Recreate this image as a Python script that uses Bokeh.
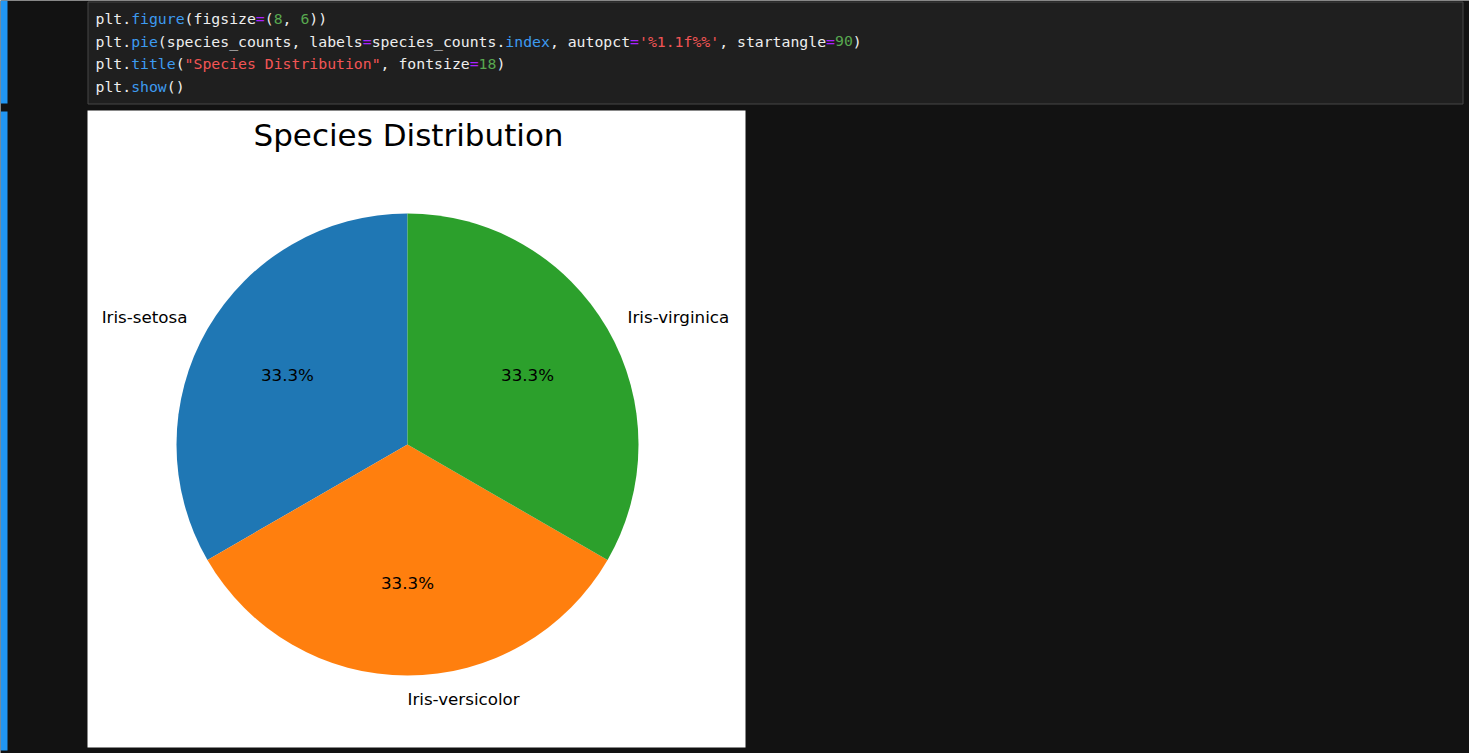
import math
from bokeh.plotting import figure
from bokeh.models import Range1d, ColumnDataSource
from bokeh.core.properties import value
from bokeh.embed import file_html
from bokeh.resources import INLINE

# ---------------- data ----------------
species = ["Iris-setosa", "Iris-versicolor", "Iris-virginica"]
counts = [50, 50, 50]
slice_colors = ["#1f77b4", "#ff7f0e", "#2ca02c"]
chart_title = "Species Distribution"
start_angle_deg = 90

# notebook code cell text (token, style)
code_lines = [
    [("plt.", "t"), ("figure", "b"), ("(figsize", "t"), ("=", "p"), ("(", "t"), ("8", "g"),
     (", ", "t"), ("6", "g"), ("))", "t")],
    [("plt.", "t"), ("pie", "b"), ("(species_counts, labels", "t"), ("=", "p"),
     ("species_counts.", "t"), ("index", "b"), (", autopct", "t"), ("=", "p"),
     ("'%1.1f%%'", "r"), (", startangle", "t"), ("=", "p"), ("90", "g"), (")", "t")],
    [("plt.", "t"), ("title", "b"), ("(", "t"), ('"Species Distribution"', "r"),
     (", fontsize", "t"), ("=", "p"), ("18", "g"), (")", "t")],
    [("plt.", "t"), ("show", "b"), ("()", "t")],
]
token_colors = {"t": "#eeeeee", "b": "#3d9bf0", "p": "#aa22ff", "g": "#58a84f", "r": "#f25555"}

# ---------------- layout ----------------
W, H = 1469, 753
CX, CY = 407, 444      # pie centre (page px)
R = 231                # pie radius (px)

def X(px):
    return px - CX

def Y(py):
    return CY - py

p = figure(width=W, height=H,
           x_range=Range1d(0 - CX, W - CX),
           y_range=Range1d(CY - H, CY),
           output_backend="svg", toolbar_location=None,
           x_axis_type=None, y_axis_type=None, min_border=0,
           outline_line_color=None,
           background_fill_color="#121212", border_fill_color="#121212")
p.grid.grid_line_color = None

# cell focus bars on the left
p.quad(left=[X(0), X(0)], right=[X(7), X(7)], top=[Y(0), Y(111)], bottom=[Y(103), Y(750)],
       fill_color="#2196f3", line_color=None)

# code cell box
p.quad(left=[X(87.5)], right=[X(1462.5)], top=[Y(1.5)], bottom=[Y(103.5)],
       fill_color="#1f1f1f", line_color="#474747", line_width=1)

# code text
mono_fs = 14.8
cw = mono_fs * 0.602
cx_, cy_, ct_, cc_ = [], [], [], []
for i, line in enumerate(code_lines):
    col = 0
    for tok, sty in line:
        cx_.append(X(95) + col * cw)
        cy_.append(Y(18 + 22.5 * i))
        ct_.append(tok)
        cc_.append(token_colors[sty])
        col += len(tok)
p.text(x=cx_, y=cy_, text=ct_, text_color=cc_, text_font=value("DejaVu Sans Mono"),
       text_font_size=f"{mono_fs}px", text_align="left", text_baseline="alphabetic")

# white matplotlib figure panel
p.quad(left=[X(87)], right=[X(745)], top=[Y(110)], bottom=[Y(747)],
       fill_color="white", line_color=None)

# title
p.text(x=[X(408)], y=[Y(134)], text=[chart_title], text_color="#000000",
       text_font=value("DejaVu Sans"), text_font_size="31px",
       text_align="center", text_baseline="alphabetic")

# pie wedges
total = sum(counts)
starts, ends, mids = [], [], []
a = math.radians(start_angle_deg)
for c in counts:
    span = 2 * math.pi * c / total
    starts.append(a)
    ends.append(a + span)
    mids.append(a + span / 2)
    a += span

src = ColumnDataSource(dict(start=starts, end=ends, color=slice_colors, name=species))
p.wedge(x=0, y=0, radius=R, start_angle="start", end_angle="end",
        direction="anticlock", fill_color="color", line_color=None, source=src)

label_fs = 16.7
lx, ly, la = [], [], []
px_, py_, pt_ = [], [], []
for name, c, m in zip(species, counts, mids):
    xt = 1.1 * R * math.cos(m)
    yt = 1.1 * R * math.sin(m)
    lx.append(xt)
    ly.append(yt)
    la.append("left" if xt > -1e-6 else "right")
    px_.append(0.6 * R * math.cos(m))
    py_.append(0.6 * R * math.sin(m))
    pt_.append(f"{100 * c / total:.1f}%")

p.text(x=lx, y=ly, text=species, text_align=la, text_baseline="alphabetic",
       text_color="#000000", text_font=value("DejaVu Sans"), text_font_size=f"{label_fs}px")
p.text(x=px_, y=py_, text=pt_, text_align="center", text_baseline="alphabetic",
       text_color="#000000", text_font=value("DejaVu Sans"), text_font_size=f"{label_fs}px")

open("out.html", "w").write(file_html(p, INLINE))
